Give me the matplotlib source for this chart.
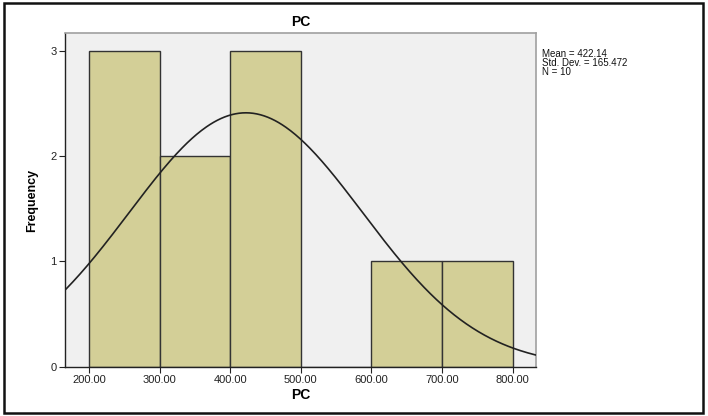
import numpy as np
import matplotlib
matplotlib.use("Agg")
from matplotlib import pyplot as plt
from matplotlib.patches import Rectangle

plt.rcParams['font.family'] = ['Liberation Sans', 'DejaVu Sans']

# histogram data
bin_edges = [200, 300, 400, 500, 600, 700, 800]
counts = [3, 2, 3, 0, 1, 1]
mean = 422.14
std = 165.472
n = 10
xticks = [200, 300, 400, 500, 600, 700, 800]
yticks = [0, 1, 2, 3]

fig = plt.figure(figsize=(7.08, 4.16), dpi=100)
ax = fig.add_axes([65/708, 1 - 366.7/416, (536 - 65)/708, (366.7 - 33.3)/416])
ax.set_facecolor('#F0F0F0')

lefts = bin_edges[:-1]
widths = np.diff(bin_edges)
ax.bar(lefts, counts, width=widths, align='edge', color='#D3CF97',
       edgecolor='#333333', linewidth=1.0, zorder=2)

# normal curve scaled to counts
binw = bin_edges[1] - bin_edges[0]
xs = np.linspace(160, 840, 400)
ys = n * binw / (std * np.sqrt(2 * np.pi)) * np.exp(-0.5 * ((xs - mean) / std) ** 2)
ax.plot(xs, ys, color='#222222', linewidth=1.2, zorder=3)

ax.set_xlim(166, 833)
ax.set_ylim(0, 3.166)
ax.set_xticks(xticks)
ax.set_xticklabels(['%.2f' % v for v in xticks])
ax.set_yticks(yticks)
ax.tick_params(axis='both', direction='out', length=4, width=0.8,
               labelsize=8, colors='#222222', pad=2)
ax.tick_params(top=False, right=False)
for side in ['top', 'right']:
    ax.spines[side].set_color('#A0A0A0')
    ax.spines[side].set_linewidth(1.2)
for side in ['left', 'bottom']:
    ax.spines[side].set_color('#222222')
    ax.spines[side].set_linewidth(1.0)

ax.set_title('PC', fontsize=10, fontweight='bold', pad=5)
ax.set_xlabel('PC', fontsize=10, fontweight='bold', labelpad=2)
ax.set_ylabel('Frequency', fontsize=9, fontweight='bold', labelpad=9)

stats = 'Mean = %.2f\nStd. Dev. = %.3f\nN = %d' % (mean, std, n)
fig.text(542/708, 1 - 49/416, stats, fontsize=7, va='top', ha='left',
         linespacing=0.9, color='#111111')

# outer frame
fig.patches.append(Rectangle((4/708, 3/416), 699/708, 410/416, transform=fig.transFigure,
                             fill=False, edgecolor='#111111', linewidth=1.8))

fig.savefig('out.png', dpi=100)
